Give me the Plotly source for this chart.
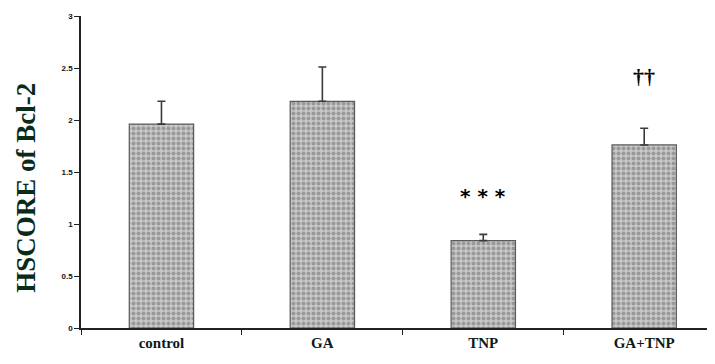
import plotly.graph_objects as go

categories = ["control", "GA", "TNP", "GA+TNP"]
values = [1.96, 2.18, 0.84, 1.76]
errors = [0.22, 0.33, 0.06, 0.16]
y_ticks = [0, 0.5, 1, 1.5, 2, 2.5, 3]
y_tick_labels = ["0", "0.5", "1", "1.5", "2", "2.5", "3"]
sig_labels = ["", "", "* * *", "††"]
sig_y = [None, None, 1.13, 2.28]

fig = go.Figure()
fig.add_trace(go.Bar(
    x=categories, y=values, width=0.40,
    marker=dict(
        color="#b4b4b4",
        line=dict(color="#5a5a5a", width=1.2),
        pattern=dict(shape=".", fgcolor="#6a6a6a", bgcolor="#c8c8c8", size=5, solidity=0.5),
    ),
    error_y=dict(type="data", array=errors, arrayminus=[0]*len(errors), symmetric=False,
                 color="#3a3a3a", thickness=1.6, width=4),
))

for c, t, yy in zip(categories, sig_labels, sig_y):
    if t:
        if "*" in t:
            f = dict(family="DejaVu Sans", size=20, color="#000000")
        else:
            f = dict(family="Liberation Serif", size=22, color="#000000")
        fig.add_annotation(x=c, y=yy, text=f"<b>{t}</b>", showarrow=False, font=f, yanchor="bottom")

fig.add_annotation(xref="paper", yref="paper", x=-0.088, xanchor="center", y=0.45,
                   text="<b>HSCORE of Bcl-2</b>", textangle=-90, showarrow=False,
                   font=dict(family="Liberation Serif", size=27, color="#0a2a1a"))

fig.update_layout(
    width=715, height=364,
    margin=dict(l=73, r=8, t=4, b=44),
    paper_bgcolor="white", plot_bgcolor="white",
    showlegend=False,
    xaxis=dict(
        type="category", range=[-0.5, 3.44], showline=True, linecolor="#222", linewidth=1.5,
        ticks="outside", tickson="boundaries", ticklen=5, tickcolor="#222",
        tickvals=categories, ticktext=[f"<b>{c}</b>" for c in categories],
        tickfont=dict(family="Liberation Serif", size=15, color="#0a1a1a"),
        showgrid=False, zeroline=False,
    ),
    yaxis=dict(
        range=[0, 3], tickvals=y_ticks, ticktext=[f"<b>{t}</b>" for t in y_tick_labels],
        showline=True, linecolor="#222", linewidth=1.5, ticks="outside", ticklen=5,
        tickcolor="#222", tickfont=dict(family="Liberation Sans", size=8, color="#111"),
        ticklabeloverflow="allow",
        showgrid=False, zeroline=False,
    ),
)

fig.write_html("out.html")
